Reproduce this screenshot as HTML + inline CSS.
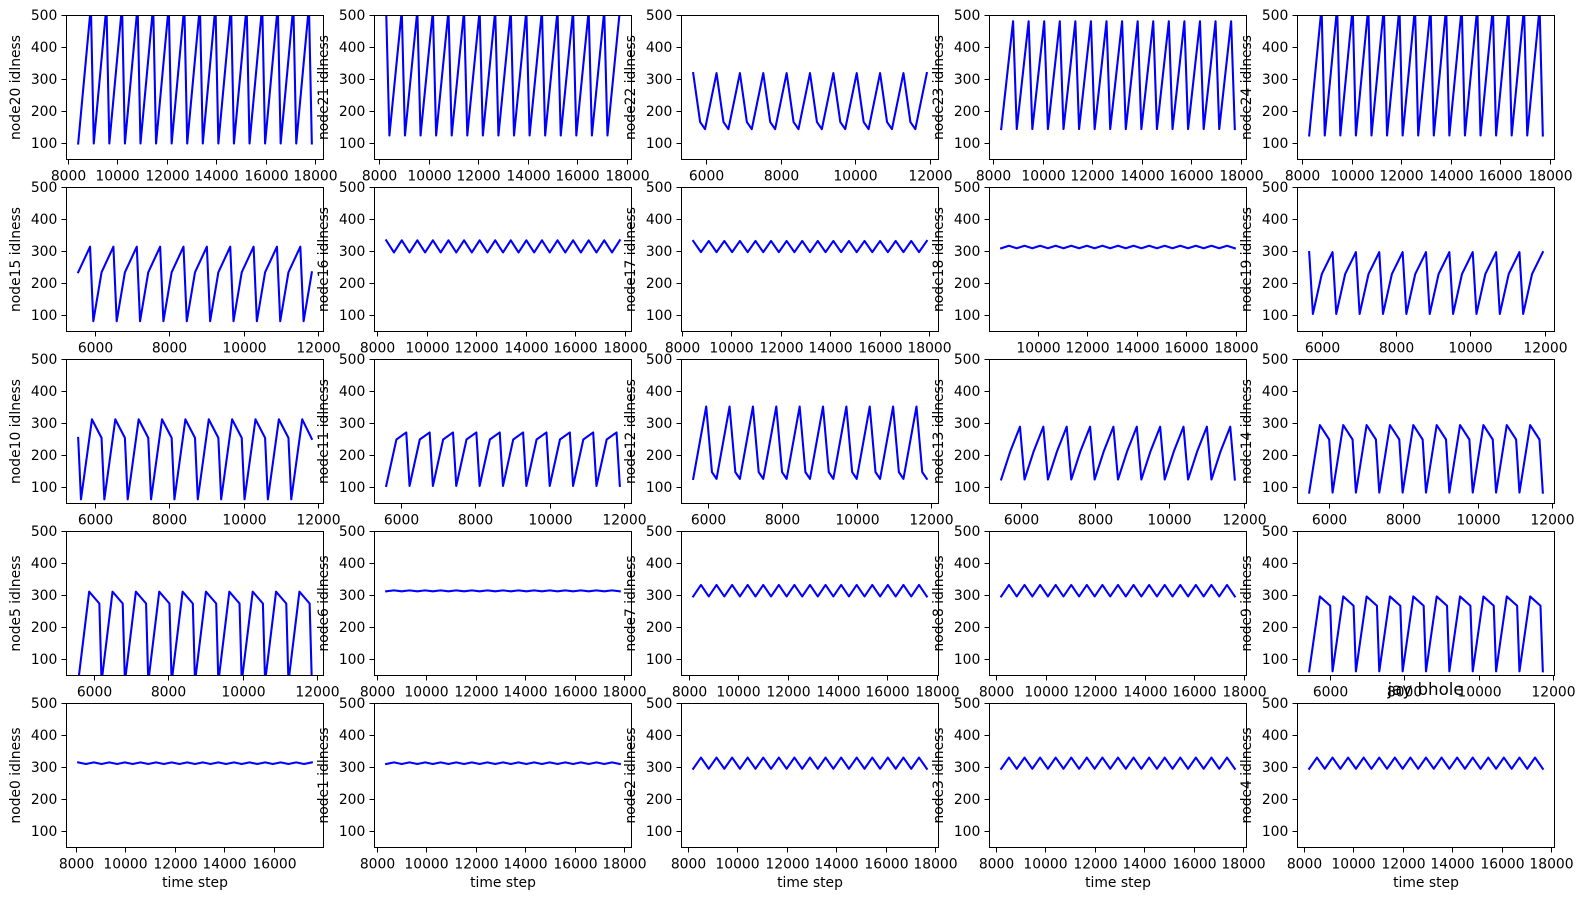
<!DOCTYPE html>
<html lang="en">
<head>
<meta charset="utf-8">
<title>jay bhole node idleness grid</title>
<style>
html,body{margin:0;padding:0;background:#fff;}
svg{display:block;}
text{font-family:"DejaVu Sans","Liberation Sans",sans-serif;fill:#000;}
</style>
</head>
<body>
<svg id="chart" xmlns="http://www.w3.org/2000/svg" width="1584" height="900" viewBox="0 0 1584 900">
  <rect x="0" y="0" width="1584" height="900" fill="#fff"/>
  <g id="panels"></g>
  <text x="1425.6" y="695" font-size="16.67" text-anchor="middle">jay bhole</text>
</svg>
<script>
const xTickValues = [6000, 8000, 10000, 12000, 14000, 16000, 18000];
const yTickValues = [100, 200, 300, 400, 500];
const yLimits = [50, 500];
const xAxisTitle = 'time step';

const node20Time = [8410,8923,9039,9552,9668,10181,10297,10810,10926,11439,11555,12068,12184,12697,12813,13326,13442,13955,14071,14584,14700,15213,15329,15842,15958,16471,16587,17100,17216,17729,17845];
const node20Idle = [100,530,100,530,100,530,100,530,100,530,100,530,100,530,100,530,100,530,100,530,100,530,100,530,100,530,100,530,100,530,100];
const node21Time = [8270,8400,8899,9029,9528,9658,10157,10287,10786,10916,11415,11545,12044,12174,12673,12803,13302,13432,13931,14061,14560,14690,15189,15319,15818,15948,16447,16577,17076,17206,17705];
const node21Idle = [515,125,515,125,515,125,515,125,515,125,515,125,515,125,515,125,515,125,515,125,515,125,515,125,515,125,515,125,515,125,515];
const node22Time = [5633,5820,5952,6261,6448,6580,6889,7076,7208,7517,7704,7836,8145,8332,8464,8773,8960,9092,9401,9588,9720,10029,10216,10348,10657,10844,10976,11285,11472,11604,11913];
const node22Idle = [320,167,145,320,167,145,320,167,145,320,167,145,320,167,145,320,167,145,320,167,145,320,167,145,320,167,145,320,167,145,320];
const node23Time = [8300,8780,8929,9409,9558,10038,10187,10667,10816,11296,11445,11925,12074,12554,12703,13183,13332,13812,13961,14441,14590,15070,15219,15699,15848,16328,16477,16957,17106,17586,17735];
const node23Idle = [145,482,145,482,145,482,145,482,145,482,145,482,145,482,145,482,145,482,145,482,145,482,145,482,145,482,145,482,145,482,145];
const node24Time = [8257,8757,8886,9386,9515,10015,10144,10644,10773,11273,11402,11902,12031,12531,12660,13160,13289,13789,13918,14418,14547,15047,15176,15676,15805,16305,16434,16934,17063,17563,17692];
const node24Idle = [125,525,125,525,125,525,125,525,125,525,125,525,125,525,125,525,125,525,125,525,125,525,125,525,125,525,125,525,125,525,125];

const node15Time = [5534,5853,5941,6162,6481,6569,6790,7109,7197,7418,7737,7825,8046,8365,8453,8674,8993,9081,9302,9621,9709,9930,10249,10337,10558,10877,10965,11186,11505,11593,11814];
const node15Idle = [235,315,82,235,315,82,235,315,82,235,315,82,235,315,82,235,315,82,235,315,82,235,315,82,235,315,82,235,315,82,235];
const node16Time = [8345,8659,8974,9288,9603,9917,10232,10546,10861,11175,11490,11804,12119,12433,12748,13062,13377,13691,14006,14320,14635,14949,15264,15578,15893,16207,16522,16836,17151,17465,17780];
const node16Idle = [335,297,335,297,335,297,335,297,335,297,335,297,335,297,335,297,335,297,335,297,335,297,335,297,335,297,335,297,335,297,335];
const node17Time = [8445,8759,9074,9388,9703,10017,10332,10646,10961,11275,11590,11904,12219,12533,12848,13162,13477,13791,14106,14420,14735,15049,15364,15678,15993,16307,16622,16936,17251,17565,17880];
const node17Idle = [333,298,333,298,333,298,333,298,333,298,333,298,333,298,333,298,333,298,333,298,333,298,333,298,333,298,333,298,333,298,333];
const node18Time = [8500,8814,9129,9443,9758,10072,10387,10701,11016,11330,11645,11959,12274,12588,12903,13217,13532,13846,14161,14475,14790,15104,15419,15733,16048,16362,16677,16991,17306,17620,17935];
const node18Idle = [310,318,310,318,310,318,310,318,310,318,310,318,310,318,310,318,310,318,310,318,310,318,310,318,310,318,310,318,310,318,310];
const node19Time = [5655,5755,5995,6283,6383,6623,6911,7011,7251,7539,7639,7879,8167,8267,8507,8795,8895,9135,9423,9523,9763,10051,10151,10391,10679,10779,11019,11307,11407,11647,11935];
const node19Idle = [298,105,230,298,105,230,298,105,230,298,105,230,298,105,230,298,105,230,298,105,230,298,105,230,298,105,230,298,105,230,298];

const node10Time = [5534,5609,5904,6162,6237,6532,6790,6865,7160,7418,7493,7788,8046,8121,8416,8674,8749,9044,9302,9377,9672,9930,10005,10300,10558,10633,10928,11186,11261,11556,11814];
const node10Idle = [255,63,313,255,63,313,255,63,313,255,63,313,255,63,313,255,63,313,255,63,313,255,63,313,255,63,313,255,63,313,252];
const node11Time = [5590,5865,6130,6218,6493,6758,6846,7121,7386,7474,7749,8014,8102,8377,8642,8730,9005,9270,9358,9633,9898,9986,10261,10526,10614,10889,11154,11242,11517,11782,11870];
const node11Idle = [105,250,272,105,250,272,105,250,272,105,250,272,105,250,272,105,250,272,105,250,272,105,250,272,105,250,272,105,250,272,105];
const node12Time = [5590,5940,6095,6218,6568,6723,6846,7196,7351,7474,7824,7979,8102,8452,8607,8730,9080,9235,9358,9708,9863,9986,10336,10491,10614,10964,11119,11242,11592,11747,11870];
const node12Idle = [127,353,148,127,353,148,127,353,148,127,353,148,127,353,148,127,353,148,127,353,148,127,353,148,127,353,148,127,353,148,127];
const node13Time = [5465,5707,5970,6093,6335,6598,6721,6963,7226,7349,7591,7854,7977,8219,8482,8605,8847,9110,9233,9475,9738,9861,10103,10366,10489,10731,10994,11117,11359,11622,11745];
const node13Idle = [125,212,290,125,212,290,125,212,290,125,212,290,125,212,290,125,212,290,125,212,290,125,212,290,125,212,290,125,212,290,125];
const node14Time = [5457,5744,5995,6085,6372,6623,6713,7000,7251,7341,7628,7879,7969,8256,8507,8597,8884,9135,9225,9512,9763,9853,10140,10391,10481,10768,11019,11109,11396,11647,11737];
const node14Idle = [84,295,250,84,295,250,84,295,250,84,295,250,84,295,250,84,295,250,84,295,250,84,295,250,84,295,250,84,295,250,84];

const node5Time = [5562,5857,6131,6190,6485,6759,6818,7113,7387,7446,7741,8015,8074,8369,8643,8702,8997,9271,9330,9625,9899,9958,10253,10527,10586,10881,11155,11214,11509,11783,11842];
const node5Idle = [30,312,275,30,312,275,30,312,275,30,312,275,30,312,275,30,312,275,30,312,275,30,312,275,30,312,275,30,312,275,30];
const node6Time = [8360,8674,8989,9303,9618,9932,10247,10561,10876,11190,11505,11819,12134,12448,12763,13077,13392,13706,14021,14335,14650,14964,15279,15593,15908,16222,16537,16851,17166,17480,17795];
const node6Idle = [313,316,313,316,313,316,313,316,313,316,313,316,313,316,313,316,313,316,313,316,313,316,313,316,313,316,313,316,313,316,313];
const node7Time = [8150,8464,8779,9093,9408,9722,10037,10351,10666,10980,11295,11609,11924,12238,12553,12867,13182,13496,13811,14125,14440,14754,15069,15383,15698,16012,16327,16641,16956,17270,17585];
const node7Idle = [297,333,297,333,297,333,297,333,297,333,297,333,297,333,297,333,297,333,297,333,297,333,297,333,297,333,297,333,297,333,297];
const node8Time = [8180,8494,8809,9123,9438,9752,10067,10381,10696,11010,11325,11639,11954,12268,12583,12897,13212,13526,13841,14155,14470,14784,15099,15413,15728,16042,16357,16671,16986,17300,17615];
const node8Idle = [297,333,297,333,297,333,297,333,297,333,297,333,297,333,297,333,297,333,297,333,297,333,297,333,297,333,297,333,297,333,297];
const node9Time = [5430,5717,5995,6058,6345,6623,6686,6973,7251,7314,7601,7879,7942,8229,8507,8570,8857,9135,9198,9485,9763,9826,10113,10391,10454,10741,11019,11082,11369,11647,11710];
const node9Idle = [63,297,268,63,297,268,63,297,268,63,297,268,63,297,268,63,297,268,63,297,268,63,297,268,63,297,268,63,297,268,63];

const node0Time = [8080,8394,8709,9023,9338,9652,9967,10281,10596,10910,11225,11539,11854,12168,12483,12797,13112,13426,13741,14055,14370,14684,14999,15313,15628,15942,16257,16571,16886,17200,17515];
const node0Idle = [316,311,316,311,316,311,316,311,316,311,316,311,316,311,316,311,316,311,316,311,316,311,316,311,316,311,316,311,316,311,316];
const node1Time = [8360,8674,8989,9303,9618,9932,10247,10561,10876,11190,11505,11819,12134,12448,12763,13077,13392,13706,14021,14335,14650,14964,15279,15593,15908,16222,16537,16851,17166,17480,17795];
const node1Idle = [311,316,311,316,311,316,311,316,311,316,311,316,311,316,311,316,311,316,311,316,311,316,311,316,311,316,311,316,311,316,311];
const node2Time = [8200,8514,8829,9143,9458,9772,10087,10401,10716,11030,11345,11659,11974,12288,12603,12917,13232,13546,13861,14175,14490,14804,15119,15433,15748,16062,16377,16691,17006,17320,17635];
const node2Idle = [296,331,296,331,296,331,296,331,296,331,296,331,296,331,296,331,296,331,296,331,296,331,296,331,296,331,296,331,296,331,296];
const node3Time = [8200,8514,8829,9143,9458,9772,10087,10401,10716,11030,11345,11659,11974,12288,12603,12917,13232,13546,13861,14175,14490,14804,15119,15433,15748,16062,16377,16691,17006,17320,17635];
const node3Idle = [296,331,296,331,296,331,296,331,296,331,296,331,296,331,296,331,296,331,296,331,296,331,296,331,296,331,296,331,296,331,296];
const node4Time = [8195,8509,8824,9138,9453,9767,10082,10396,10711,11025,11340,11654,11969,12283,12598,12912,13227,13541,13856,14170,14485,14799,15114,15428,15743,16057,16372,16686,17001,17315,17630];
const node4Idle = [296,331,296,331,296,331,296,331,296,331,296,331,296,331,296,331,296,331,296,331,296,331,296,331,296,331,296,331,296,331,296];

const panelLabels = [
  'node20 idlness','node21 idlness','node22 idlness','node23 idlness','node24 idlness',
  'node15 idlness','node16 idlness','node17 idlness','node18 idlness','node19 idlness',
  'node10 idlness','node11 idlness','node12 idlness','node13 idlness','node14 idlness',
  'node5 idlness','node6 idlness','node7 idlness','node8 idlness','node9 idlness',
  'node0 idlness','node1 idlness','node2 idlness','node3 idlness','node4 idlness'
];
const panelTimes = [
  node20Time,node21Time,node22Time,node23Time,node24Time,
  node15Time,node16Time,node17Time,node18Time,node19Time,
  node10Time,node11Time,node12Time,node13Time,node14Time,
  node5Time,node6Time,node7Time,node8Time,node9Time,
  node0Time,node1Time,node2Time,node3Time,node4Time
];
const panelIdle = [
  node20Idle,node21Idle,node22Idle,node23Idle,node24Idle,
  node15Idle,node16Idle,node17Idle,node18Idle,node19Idle,
  node10Idle,node11Idle,node12Idle,node13Idle,node14Idle,
  node5Idle,node6Idle,node7Idle,node8Idle,node9Idle,
  node0Idle,node1Idle,node2Idle,node3Idle,node4Idle
];

const SVG_NS = 'http://www.w3.org/2000/svg';
const COLUMNS = 5;
const ROWS = 5;

function snap(v) {
  return Math.round(v - 0.5) + 0.5;
}

function make(tag, attrs, parent) {
  const el = document.createElementNS(SVG_NS, tag);
  Object.keys(attrs).forEach(function (k) { el.setAttribute(k, attrs[k]); });
  parent.appendChild(el);
  return el;
}

function linearScale(domainLow, domainHigh, rangeLow, rangeHigh) {
  return function (v) {
    return rangeLow + (v - domainLow) * (rangeHigh - rangeLow) / (domainHigh - domainLow);
  };
}

function drawPanel(root, defs, index) {
  const col = index % COLUMNS;
  const row = Math.floor(index / COLUMNS);
  const left = snap(66.5 + 307.7 * col);
  const right = snap(66.5 + 307.7 * col + 256.8);
  const top = snap(15.3 + 172.05 * row);
  const bottom = snap(15.3 + 172.05 * row + 144);

  const times = panelTimes[index];
  const idle = panelIdle[index];
  const label = panelLabels[index];
  const panelName = label.split(' ')[0];

  const tMin = Math.min.apply(null, times);
  const tMax = Math.max.apply(null, times);
  const margin = (tMax - tMin) * 0.05;
  const xLow = tMin - margin;
  const xHigh = tMax + margin;
  const xScale = linearScale(xLow, xHigh, left, right);
  const yScale = linearScale(yLimits[0], yLimits[1], bottom, top);

  const g = make('g', {}, root);
  
  

  const clipId = 'clip-' + index;
  const clip = make('clipPath', { id: clipId }, defs);
  make('rect', { x: left, y: top, width: right - left, height: bottom - top }, clip);

  const background = make('rect', { x: left, y: top, width: right - left, height: bottom - top, fill: '#fff' }, g);
  
  

  const points = times.map(function (t, i) {
    return xScale(t).toFixed(2) + ',' + yScale(idle[i]).toFixed(2);
  }).join(' ');
  const line = make('polyline', {
    points: points,
    fill: 'none',
    stroke: '#0000ff',
    'stroke-width': 2.08,
    'stroke-linejoin': 'round',
    'stroke-linecap': 'square',
    'clip-path': 'url(#' + clipId + ')'
  }, g);
  
  

  const frame = make('rect', {
    x: left, y: top, width: right - left, height: bottom - top,
    fill: 'none', stroke: '#000', 'stroke-width': 1, 'shape-rendering': 'crispEdges'
  }, g);
  
  

  yTickValues.forEach(function (value) {
    const y = snap(yScale(value));
    const tick = make('line', { x1: left - 5, x2: left, y1: y, y2: y, stroke: '#000', 'stroke-width': 1, 'shape-rendering': 'crispEdges' }, g);
    
    
    const text = make('text', { x: left - 9.2, y: y + 4.6, 'font-size': 13.89, 'text-anchor': 'end' }, g);
    
    
    text.textContent = String(value);
  });

  xTickValues.forEach(function (value) {
    if (value < xLow || value > xHigh) return;
    const x = snap(xScale(value));
    const tick = make('line', { x1: x, x2: x, y1: bottom, y2: bottom + 5, stroke: '#000', 'stroke-width': 1, 'shape-rendering': 'crispEdges' }, g);
    
    
    const text = make('text', { x: x, y: bottom + 20.8, 'font-size': 13.89, 'text-anchor': 'middle' }, g);
    
    
    text.textContent = String(value);
  });

  const baseX = left - 46.5;
  const midY = (top + bottom) / 2;
  const yTitle = make('text', {
    x: baseX, y: midY, 'font-size': 13.89, 'text-anchor': 'middle',
    transform: 'rotate(-90 ' + baseX + ' ' + midY + ')'
  }, g);
  
  
  yTitle.textContent = label;

  if (row === ROWS - 1) {
    const xTitle = make('text', { x: (left + right) / 2, y: bottom + 39.5, 'font-size': 13.89, 'text-anchor': 'middle' }, g);
    
    
    xTitle.textContent = xAxisTitle;
  }
}

(function render() {
  const root = document.getElementById('panels');
  const defs = make('defs', {}, root);
  panelLabels.forEach(function (_, i) {
    drawPanel(root, defs, i);
  });
})();
</script>
</body>
</html>
